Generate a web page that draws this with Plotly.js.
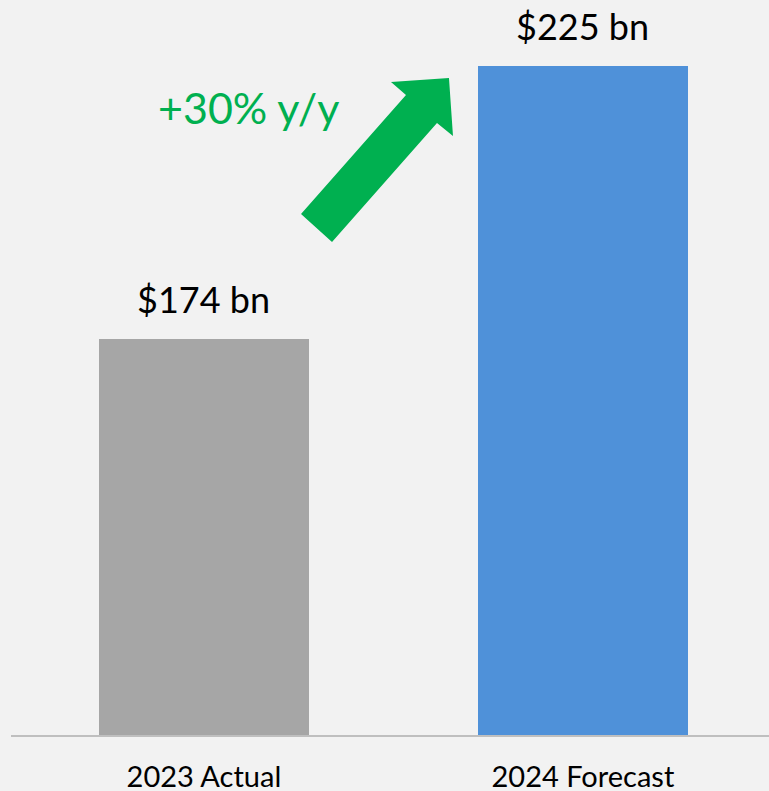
<!DOCTYPE html>
<html>
<head>
<meta charset="utf-8">
<script src="https://cdn.plot.ly/plotly-3.0.1.min.js"></script>
<style>html,body{margin:0;padding:0;background:#f2f2f2;}</style>
</head>
<body>
<div id="chart" style="width:769px;height:791px;"></div>
<script>
const categories = ["2023 Actual", "2024 Forecast"];
const values = [174, 225];
const valueLabels = ["$174 bn", "$225 bn"];
const barColors = ["#a6a6a6", "#4f91d9"];
const growthLabel = "+30% y/y";

const W = 769, H = 791;
const M = {l: 11, r: 0, t: 10, b: 56};
const pw = W - M.l - M.r, ph = H - M.t - M.b;
const yMin = 100, yMax = 235.4;

// arrow outline in pixel space, converted to paper coords
const arrowPx = [[301,214],[406,95],[391,82],[449,78],[453,136],[437,123],[332,242]];
const toPaper = p => [(p[0]-M.l)/pw, (H - M.b - p[1])/ph];
const arrowPath = arrowPx.map((p,i)=>{const q=toPaper(p);return (i?'L':'M')+q[0].toFixed(4)+','+q[1].toFixed(4);}).join(' ')+' Z';

const data = [{
  type: 'bar',
  x: categories,
  y: values,
  base: 0,
  width: 0.555,
  marker: {color: barColors},
  hoverinfo: 'skip'
}];

const annotations = categories.map((c,i)=>({
  x: c, y: values[i], xref:'x', yref:'y',
  text: valueLabels[i], showarrow:false,
  yanchor:'bottom', yshift: 16,
  font:{family:'Lato, "Open Sans", sans-serif', size:36, color:'#000000'}
}));
annotations.push({
  xref:'paper', yref:'paper',
  x: (248-M.l)/pw, y: (H-M.b-108)/ph,
  text: growthLabel, showarrow:false,
  xanchor:'center', yanchor:'middle',
  font:{family:'Lato, "Open Sans", sans-serif', size:43, color:'#00b050'}
});

const layout = {
  width: W, height: H,
  margin: M,
  paper_bgcolor:'#f2f2f2', plot_bgcolor:'#f2f2f2',
  showlegend:false,
  bargap: 0,
  xaxis: {
    type:'category', range:[-0.509, 1.491],
    showgrid:false, zeroline:false,
    showline:true, linecolor:'#bfbfbf', linewidth:2,
    ticks:'', ticklabelstandoff: 15,
    tickfont:{family:'Lato, "Open Sans", sans-serif', size:29, color:'#000000'},
    fixedrange:true
  },
  yaxis: {
    range:[yMin, yMax], visible:false, showgrid:false, zeroline:false, fixedrange:true
  },
  shapes: [{
    type:'path', xref:'paper', yref:'paper', path: arrowPath,
    fillcolor:'#00b050', line:{width:0}
  }],
  annotations: annotations
};

Plotly.newPlot('chart', data, layout, {displayModeBar:false, staticPlot:true});
</script>
</body>
</html>
